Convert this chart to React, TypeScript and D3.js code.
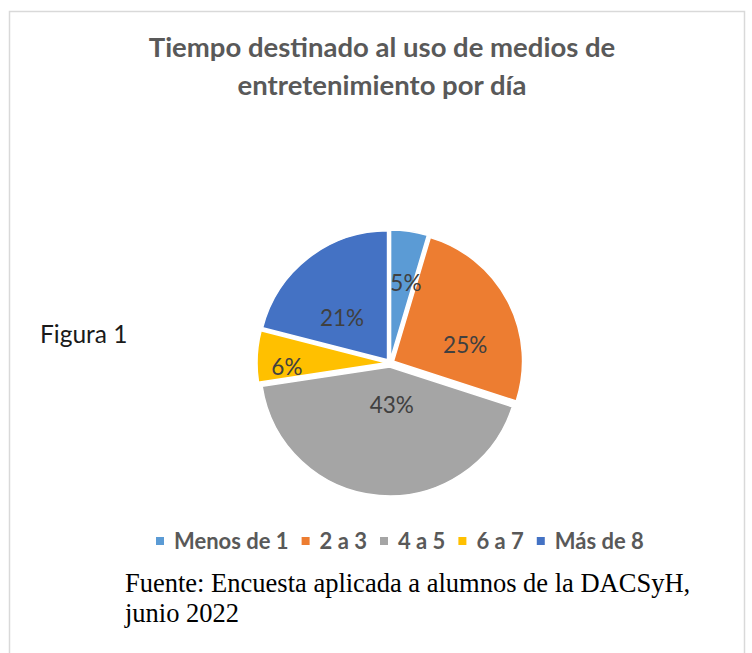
import React, { useEffect, useRef } from "react";
import * as d3 from "d3";

// Chart data
const categories = ["Menos de 1", "2 a 3", "4 a 5", "6 a 7", "Más de 8"];
const shares = [4.6, 25.4, 42.6, 6.4, 21.0];
const colors = ["#5B9BD5", "#ED7D31", "#A5A5A5", "#FFC000", "#4472C4"];
const titleLines = ["Tiempo destinado al uso de medios de", "entretenimiento por día"];
const sourceLines = ["Fuente: Encuesta aplicada a alumnos de la DACSyH,", "junio 2022"];

// data label placement: fraction of radius and a small turn (degrees) off the mid-angle
const labelRadius = [0.63, 0.6, 0.33, 0.8, 0.51];
const labelTurn = [3, 14, -7, -5, -9];

const W = 752;
const H = 653;

export default function App() {
  const ref = useRef<SVGSVGElement>(null);

  useEffect(() => {
    const svg = d3.select(ref.current);
    svg.selectAll("*").remove();

    const sans = "Lato, 'Open Sans', sans-serif";

    // chart frame
    svg.append("rect")
      .attr("x", 9.5).attr("y", 11.5)
      .attr("width", 735).attr("height", 680)
      .attr("fill", "#fff")
      .attr("stroke", "#d9d9d9")
      .attr("stroke-width", 1.5);

    // title
    svg.append("g").selectAll("text")
      .data(titleLines)
      .enter()
      .append("text")
      .attr("x", 382)
      .attr("y", (d, i) => 57 + i * 38)
      .attr("text-anchor", "middle")
      .style("font-family", sans)
      .style("font-weight", "bold")
      .style("font-size", "27.5px")
      .style("fill", "#595959")
      .text(d => d);

    svg.append("text")
      .attr("x", 40).attr("y", 343)
      .style("font-family", sans)
      .style("font-size", "24.5px")
      .style("fill", "#1a1a1a")
      .text("Figura 1");

    // pie
    const cx = 390, cy = 363, R = 129, explode = 4;
    const total = d3.sum(shares);
    const pie = d3.pie<number>().sort(null).value(d => d);
    const arcs = pie(shares);
    const arc = d3.arc<d3.PieArcDatum<number>>().innerRadius(0).outerRadius(R);

    const g = svg.append("g").attr("transform", `translate(${cx},${cy})`);
    const mid = (d: d3.PieArcDatum<number>) => (d.startAngle + d.endAngle) / 2;
    const lblAngle = (d: d3.PieArcDatum<number>, i: number) => mid(d) + (labelTurn[i] * Math.PI) / 180;

    g.selectAll("path")
      .data(arcs)
      .enter()
      .append("path")
      .attr("d", arc)
      .attr("transform", d => `translate(${Math.sin(mid(d)) * explode},${-Math.cos(mid(d)) * explode})`)
      .attr("fill", (d, i) => colors[i])
      .attr("stroke", "#fff")
      .attr("stroke-width", 1.5);

    g.selectAll("text.lbl")
      .data(arcs)
      .enter()
      .append("text")
      .attr("class", "lbl")
      .attr("x", (d, i) => Math.sin(lblAngle(d, i)) * R * labelRadius[i])
      .attr("y", (d, i) => -Math.cos(lblAngle(d, i)) * R * labelRadius[i])
      .attr("dy", "0.35em")
      .attr("text-anchor", "middle")
      .style("font-family", sans)
      .style("font-size", "22.5px")
      .style("fill", "#404040")
      .text(d => `${Math.round((d.value / total) * 100)}%`);

    // legend
    const legend = svg.append("g").attr("transform", "translate(156,541)");
    let x = 0;
    categories.forEach((c, i) => {
      const item = legend.append("g").attr("transform", `translate(${x},0)`);
      item.append("rect")
        .attr("x", 0).attr("y", -4)
        .attr("width", 8).attr("height", 8)
        .attr("fill", colors[i]);
      const t = item.append("text")
        .attr("x", 18).attr("dy", "0.36em")
        .style("font-family", sans)
        .style("font-weight", "bold")
        .style("font-size", "22px")
        .style("fill", "#595959")
        .text(c);
      const len = (t.node() as SVGTextElement).getComputedTextLength();
      x += 18 + len + 13;
    });

    // source note
    svg.append("g").selectAll("text")
      .data(sourceLines)
      .enter()
      .append("text")
      .attr("x", 125)
      .attr("y", (d, i) => 592 + i * 30)
      .style("font-family", "'Liberation Serif', 'Times New Roman', serif")
      .style("font-size", "26.5px")
      .style("fill", "#000")
      .text(d => d);
  }, []);

  return (
    <svg
      ref={ref}
      width={W}
      height={H}
      style={{ position: "absolute", left: 0, top: 0 }}
    />
  );
}
